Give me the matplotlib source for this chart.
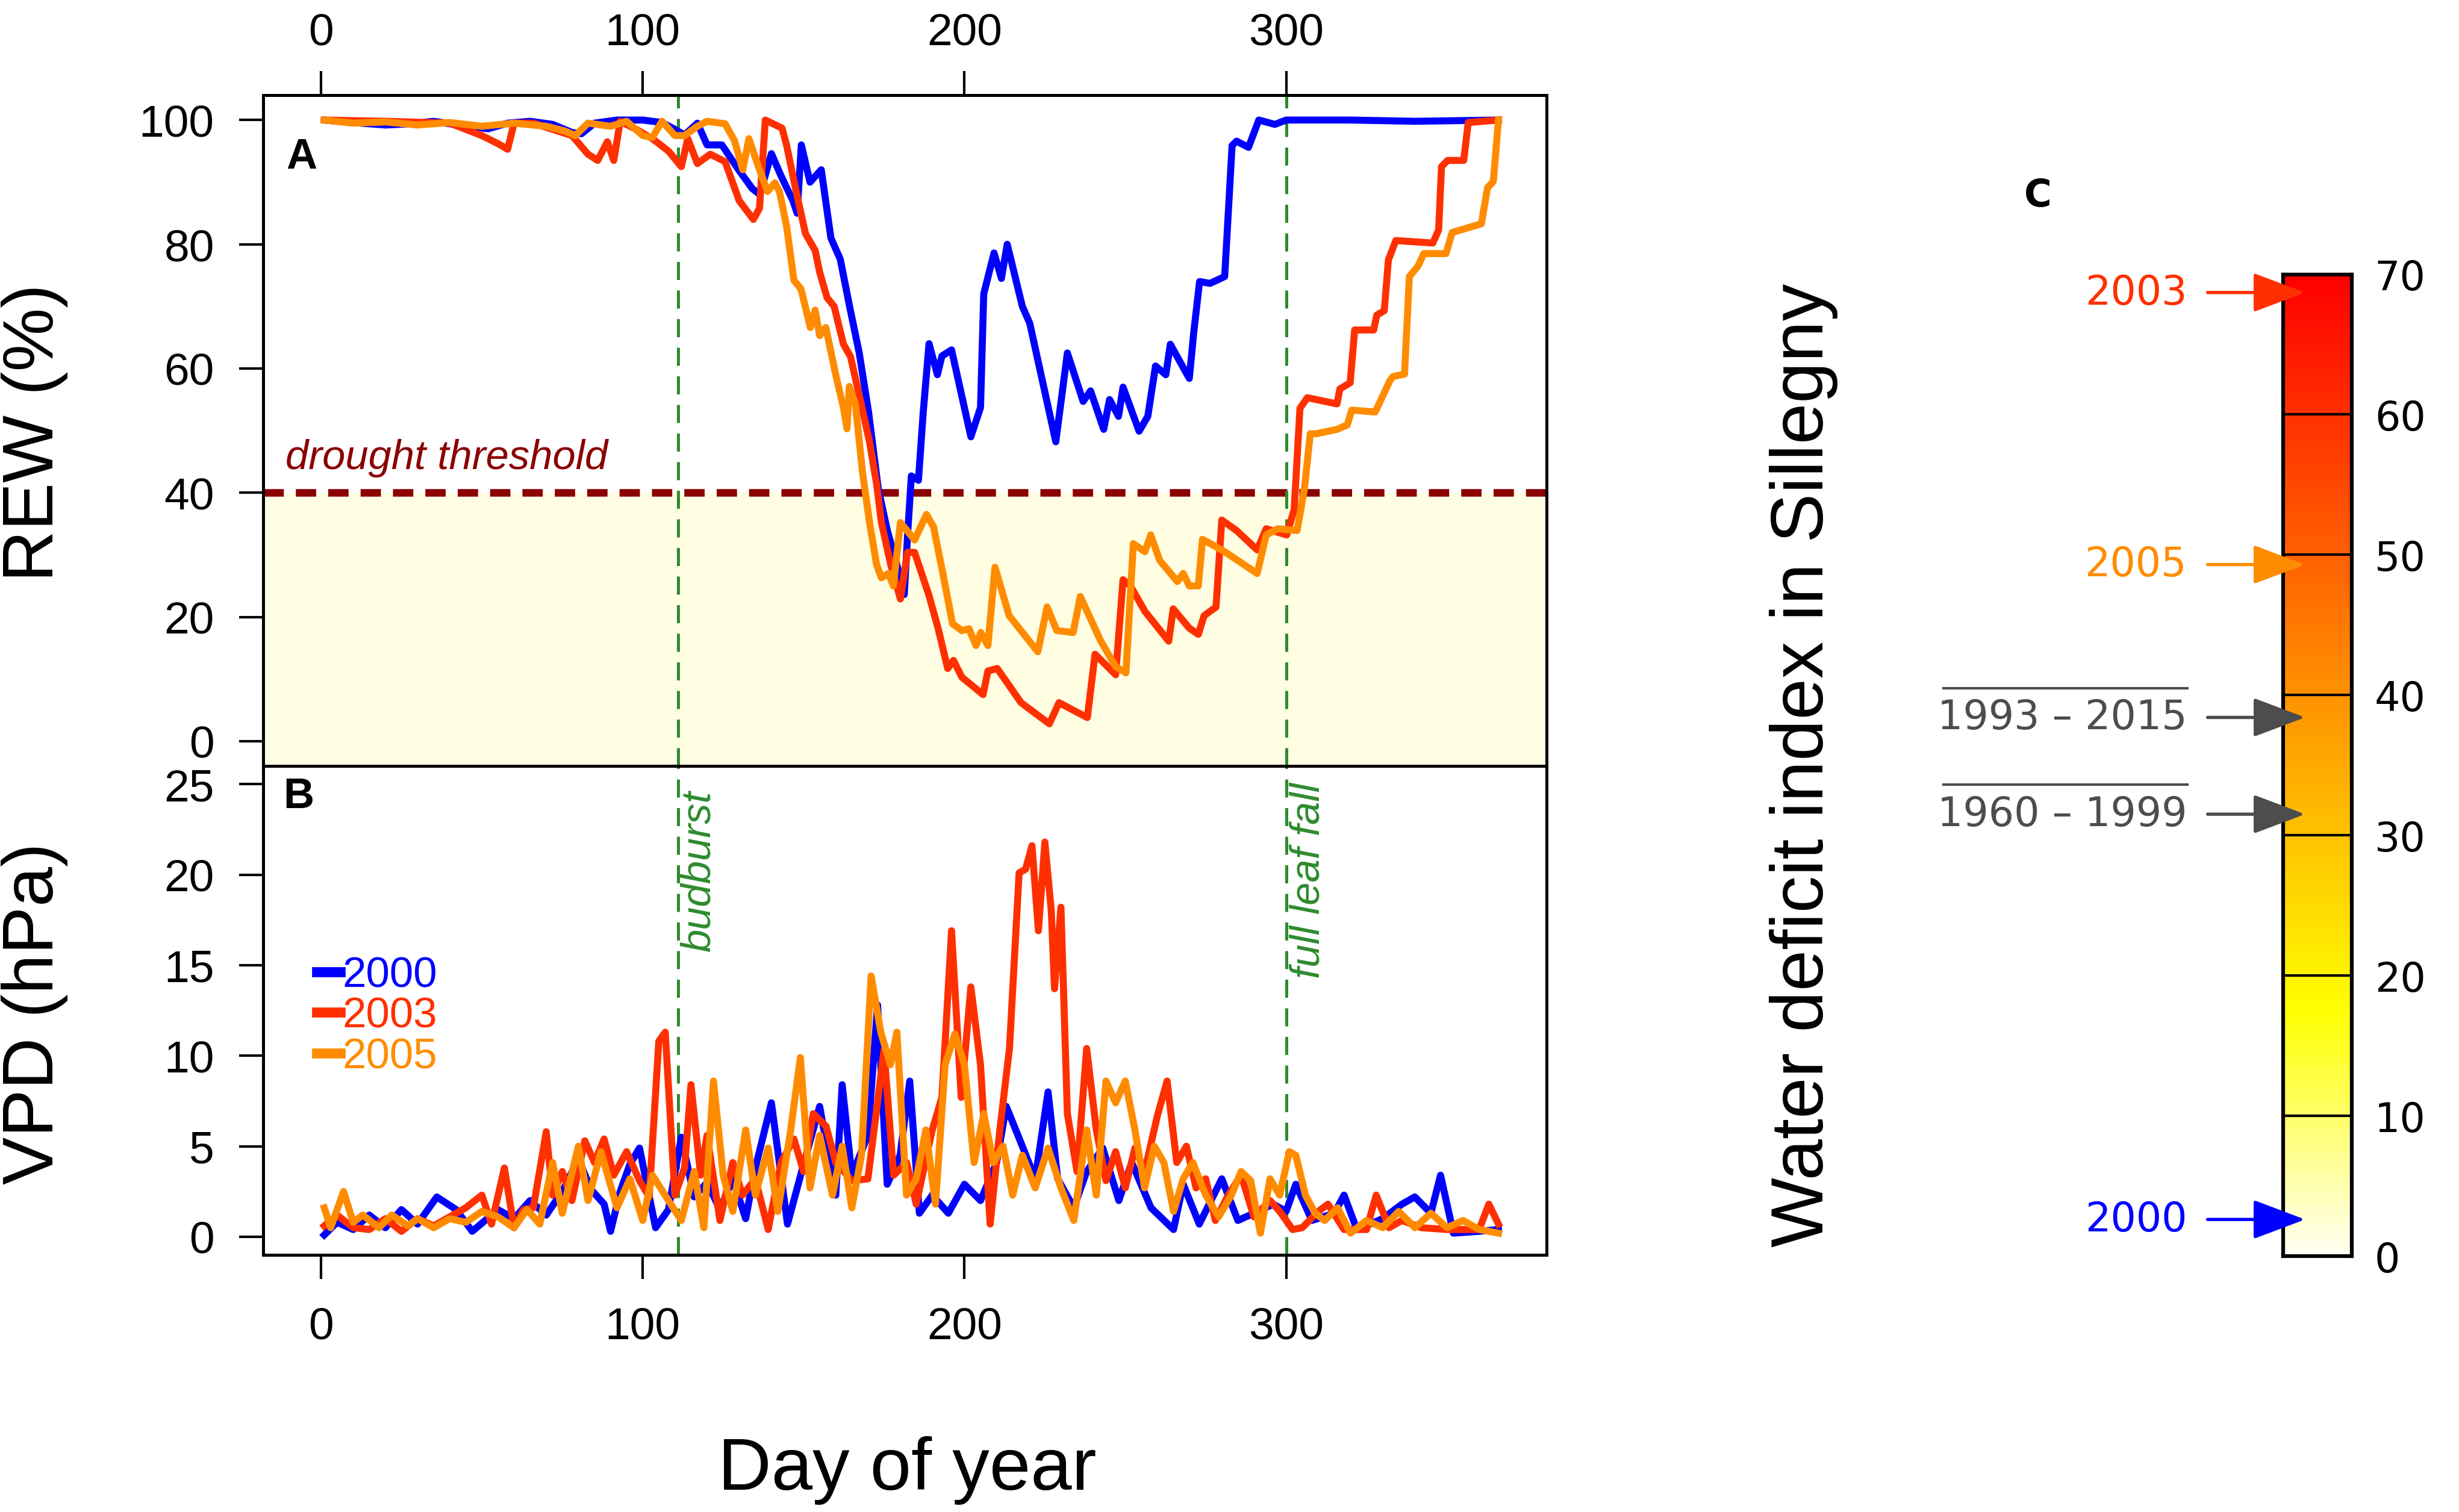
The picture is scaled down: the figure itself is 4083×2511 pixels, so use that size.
import numpy as np
import matplotlib.pyplot as plt
from matplotlib.colors import LinearSegmentedColormap

plt.rcParams['font.family'] = ['Liberation Sans', 'DejaVu Sans']

# ---- data ----
years = ['2000', '2003', '2005']
year_colors = ['#0000FF', '#FF3000', '#FF8C00']

# REW (%) panel A
rew_day_2000 = [1, 10, 20, 28, 35, 45, 52, 58, 65, 72, 78, 81, 85, 92, 100, 106, 110, 113, 117, 120,
                124.6, 129.8, 134, 136.4, 140, 143, 146.7, 148, 149.3, 152, 155.5, 158.5, 161.4, 164.3,
                167.3, 170.2, 173.2, 176, 179, 181.3, 182.4, 183.5, 185.7, 187.2, 189, 191.6, 193, 196,
                202, 205, 206, 209.2, 211.5, 213.3, 218, 220.3, 228.4, 232, 236.9, 239.2, 243.3, 245.1,
                247.9, 249.3, 254.3, 257, 259.4, 262.6, 264, 269.9, 271.3, 273.1, 276.3, 280.9, 283.2,
                284.6, 288.3, 291.5, 296.5, 300, 320, 340, 366]
rew_val_2000 = [100, 99.6, 99.2, 99.4, 99.8, 99, 98.6, 99.5, 99.8, 99.3, 98, 97.8, 99.5, 100, 100, 99.6,
                98.5, 97.6, 99.5, 96, 96, 92, 89, 88, 94.6, 91, 87, 85, 96, 90, 92, 81, 77.6, 70, 62.5, 53,
                40.7, 34, 28.4, 23.6, 33.8, 42.7, 42, 53, 64, 59, 62, 63, 49, 53.7, 72, 78.6, 74.5, 80, 70,
                67.3, 48.2, 62.5, 54.7, 56.4, 50.2, 55, 52.3, 57, 49.9, 52.3, 60.4, 59, 63.9, 58.4, 65.9,
                74, 73.7, 74.8, 95.9, 96.6, 95.6, 100, 99.3, 100, 100, 99.8, 100]

rew_day_2003 = [1, 20, 40, 45, 50, 55, 58, 60, 66, 72, 78, 83, 86, 89, 91, 93, 98, 103, 108, 112, 114,
                117, 121, 125.6, 130, 134.4, 136.3, 138.1, 143.3, 144.7, 147.7, 150.6, 153.6, 155, 157.3,
                159.5, 162.4, 164.6, 167.6, 170.5, 172.7, 174.2, 177.1, 180.1, 182.3, 184.5, 188.9, 191.8,
                194.8, 196.6, 199.2, 205.8, 207.3, 210.2, 217.6, 226.4, 229.4, 238.2, 240.6, 247, 249.3,
                251.6, 256.1, 263.5, 264.9, 269.9, 272.7, 274.5, 278.2, 280, 284.6, 291, 293.8, 300.2,
                302.5, 304.3, 306.6, 315.8, 316.7, 319.9, 321.3, 327.2, 328.2, 330.5, 331.8, 334.1, 345.6,
                347.4, 348.3, 350.2, 355.2, 356.6, 366]
rew_val_2003 = [100, 99.8, 99.5, 98.5, 97.5, 96.2, 95.3, 99.5, 99.5, 98.5, 97.5, 94.5, 93.5, 96.5, 93.5,
                99.8, 98.5, 97, 95, 92.5, 97, 93, 94.5, 93.3, 87, 84, 85.8, 100, 98.7, 96, 88.5, 81.7, 79,
                75.5, 71.4, 70, 63.9, 61.9, 55, 48.2, 41.4, 35.2, 28.4, 22.9, 30.4, 30.4, 23.6, 18.2, 11.7,
                13, 10.3, 7.5, 11.3, 11.7, 6.2, 2.8, 6.2, 3.8, 14, 10.7, 26, 25, 20.9, 16.1, 21.3, 18.2,
                17.2, 20.2, 21.6, 35.6, 33.9, 30.8, 34.2, 33.2, 37.3, 53.6, 55.3, 54.3, 56.7, 57.7, 66.2,
                66.2, 68.6, 69.3, 77.5, 80.6, 80.2, 82.3, 92.5, 93.5, 93.5, 99.6, 100]

rew_day_2005 = [1, 10, 20, 30, 40, 50, 60, 70, 76, 79, 83, 90, 95, 100, 103, 106, 110, 113, 117, 120,
                125.6, 128.5, 131.1, 133, 135.9, 138.8, 141.1, 142.5, 144.7, 147, 149.2, 152.1, 153.6,
                155, 156.9, 160.2, 162.4, 163.5, 164.2, 166.1, 168.3, 170.5, 172.7, 174.2, 176.4, 177.9,
                180.1, 182.3, 184.5, 188.2, 190.4, 193.3, 196.3, 199.2, 201.4, 203.6, 205.1, 207.3, 209.5,
                213.9, 222.8, 225.7, 228.7, 233.8, 236, 242.4, 247, 250.2, 252.5, 256.1, 257.9, 260.7,
                266.2, 268, 269.9, 272.7, 274, 280.9, 291, 293.8, 297.4, 303.4, 305.7, 307.5, 309.4, 315.8,
                319, 320.4, 327.7, 329.5, 332.3, 333.2, 336.8, 338.3, 341, 342.8, 349.7, 351.6, 360.7,
                362.6, 364.4, 366]
rew_val_2005 = [100, 99.5, 99.7, 99.2, 99.6, 99, 99.5, 99, 98.2, 97.5, 99.5, 99, 99.8, 97.5, 97.2, 99.8,
                97.5, 97.5, 99, 99.8, 99.4, 96.7, 92, 97, 92.6, 88.5, 89.9, 88.5, 83, 74.2, 72.8, 66.6,
                69.4, 65.3, 66.6, 58.5, 53.7, 50.3, 57.1, 54.3, 43.4, 35.2, 28.4, 26.3, 27, 25, 35.2, 33.8,
                32.4, 36.5, 34.5, 27, 18.9, 17.8, 18.1, 15.4, 17.5, 15.4, 28, 20.2, 14.4, 21.6, 17.8, 17.5,
                23.3, 16.1, 12, 11, 31.8, 30.5, 33.2, 29.1, 25.7, 27, 25, 25, 32.5, 30.5, 27, 33.2, 34.2,
                33.9, 40.7, 49.5, 49.5, 50.2, 50.9, 53.3, 53, 55, 58.1, 58.7, 59.1, 74.8, 76.5, 78.5, 78.5,
                81.9, 83.3, 89.1, 90.1, 100]

# VPD (hPa) panel B
vpd_day_2000 = [1, 5, 10, 15, 20, 25, 30, 36, 42, 47, 55, 60, 65, 70, 75, 80, 84, 88, 90, 93, 96, 99,
                104, 108, 112, 116, 120, 124, 128, 132, 135, 140, 145, 150, 155, 160, 162, 165, 170, 173,
                176, 180, 183, 186, 190, 195, 200, 205, 210, 213, 218, 222, 226, 229, 234, 238, 243, 248,
                252, 258, 265, 268, 273, 280, 285, 290, 296, 300, 303, 308, 315, 318, 322, 330, 336, 340,
                345, 348, 352, 360, 366]
vpd_val_2000 = [0.1, 0.8, 0.4, 1.2, 0.5, 1.5, 0.7, 2.2, 1.5, 0.3, 1.5, 1.0, 2.0, 1.2, 2.5, 4.3, 2.6, 1.8,
                0.3, 2.5, 4.0, 4.9, 0.5, 1.5, 5.5, 2.2, 3.0, 1.5, 3.2, 1.0, 3.8, 7.4, 0.7, 4.0, 7.2, 2.3,
                8.4, 3.4, 5.6, 12.8, 2.9, 4.5, 8.6, 1.3, 2.3, 1.3, 2.9, 2.0, 4.1, 7.2, 5.0, 3.2, 8.0, 3.2,
                1.6, 3.6, 4.9, 2.0, 4.1, 1.6, 0.4, 2.9, 0.7, 3.2, 0.9, 1.3, 1.8, 1.4, 2.9, 0.9, 1.3, 2.3,
                0.4, 1.0, 1.8, 2.2, 1.3, 3.4, 0.2, 0.3, 0.4]

vpd_day_2003 = [1, 5, 10, 15, 20, 25, 30, 35, 40, 45, 50, 53, 57, 60, 63, 66, 70, 72, 75, 78, 82, 85, 88,
                91, 95, 99, 102, 105, 107, 110, 113, 115, 118, 120, 124, 128, 131, 135, 139, 143, 147, 150,
                153, 157, 160, 165, 170, 175, 178, 182, 185, 190, 193, 196, 199, 202, 205, 208, 211, 214,
                217, 219, 221, 223, 225, 227, 228, 230, 232, 235, 238, 241, 244, 247, 250, 253, 256, 260,
                263, 266, 269, 272, 275, 278, 282, 286, 290, 295, 298, 302, 305, 310, 313, 318, 325, 328,
                332, 336, 342, 350, 355, 360, 363, 366]
vpd_val_2003 = [0.6, 1.2, 0.5, 0.4, 1.0, 0.3, 1.0, 0.6, 1.1, 1.6, 2.3, 0.7, 3.8, 0.5, 1.5, 1.6, 5.8, 2.3,
                3.6, 2.0, 5.3, 4.1, 5.4, 3.4, 4.7, 3.1, 2.2, 10.8, 11.3, 2.3, 3.8, 8.4, 3.4, 5.6, 0.9, 4.1,
                2.3, 3.2, 0.4, 4.1, 5.4, 3.6, 6.8, 6.1, 4.1, 3.1, 3.2, 10.3, 3.4, 4.1, 1.8, 5.9, 7.7, 16.9,
                7.7, 13.8, 9.5, 0.7, 5.9, 10.4, 20.1, 20.3, 21.6, 16.9, 21.8, 18.0, 13.7, 18.2, 6.8, 3.6,
                10.4, 5.9, 3.1, 4.7, 2.7, 4.9, 3.6, 6.7, 8.6, 4.1, 5.0, 2.7, 3.2, 0.9, 2.3, 3.4, 1.1, 2.0,
                1.4, 0.4, 0.5, 1.4, 1.8, 0.4, 0.4, 2.3, 0.5, 0.9, 0.5, 0.4, 0.4, 0.4, 1.8, 0.7]

vpd_day_2005 = [1, 3, 7, 10, 13, 18, 22, 27, 30, 35, 40, 45, 50, 55, 60, 64, 68, 72, 75, 80, 83, 87, 92,
                96, 100, 103, 108, 112, 116, 119, 122, 125, 128, 132, 135, 139, 142, 146, 149, 152, 155,
                159, 162, 165, 168, 171, 174, 177, 179, 182, 185, 188, 191, 194, 197, 200, 203, 206, 209,
                212, 215, 218, 222, 226, 230, 234, 238, 241, 244, 247, 250, 253, 256, 259, 262, 265, 268,
                271, 275, 279, 283, 286, 289, 292, 295, 298, 301, 303, 306, 309, 312, 316, 320, 325, 330,
                335, 340, 345, 350, 355, 360, 366]
vpd_val_2005 = [1.6, 0.5, 2.5, 0.8, 1.2, 0.5, 1.2, 0.6, 1.0, 0.5, 1.0, 0.8, 1.4, 1.1, 0.5, 1.5, 0.7, 4.1,
                1.3, 5.0, 2.0, 4.7, 1.6, 3.2, 0.9, 3.4, 2.0, 0.9, 3.6, 0.5, 8.6, 3.4, 1.4, 5.9, 2.3, 4.9,
                1.4, 5.9, 9.9, 2.7, 5.6, 2.3, 5.0, 1.6, 4.5, 14.4, 11.3, 9.5, 11.3, 2.3, 3.2, 5.9, 1.8, 9.5,
                11.2, 9.5, 4.1, 6.8, 4.1, 5.0, 2.3, 4.5, 2.7, 4.9, 2.7, 0.9, 5.9, 2.3, 8.6, 7.4, 8.6, 5.9,
                2.7, 5.0, 4.1, 1.4, 3.2, 4.1, 2.3, 1.1, 2.3, 3.6, 3.1, 0.2, 3.2, 2.3, 4.7, 4.5, 2.3, 1.3,
                0.9, 1.6, 0.2, 0.9, 0.5, 1.4, 0.5, 1.3, 0.5, 0.9, 0.4, 0.2]

rew_days = [rew_day_2000, rew_day_2003, rew_day_2005]
rew_vals = [rew_val_2000, rew_val_2003, rew_val_2005]
vpd_days = [vpd_day_2000, vpd_day_2003, vpd_day_2005]
vpd_vals = [vpd_val_2000, vpd_val_2003, vpd_val_2005]

drought_threshold = 40
budburst_day = 111
leaf_fall_day = 300

# panel C: water deficit index
wdi_labels = ['2003', '2005', '1993 – 2015', '1960 – 1999', '2000']
wdi_values = [68.7, 49.3, 38.4, 31.5, 2.6]
wdi_colors = ['#FF3000', '#FF8C00', '#4D4D4D', '#4D4D4D', '#0000FF']
wdi_overline = [False, False, True, True, False]

# ---- figure ----
fig = plt.figure(figsize=(13.61, 8.373), dpi=300)
axA = fig.add_axes([0.107, 0.4932, 0.522, 0.4435])
axB = fig.add_axes([0.107, 0.170, 0.522, 0.3232])

xlim = (-18, 381)
green = '#2E8B2E'

for ax in (axA, axB):
    ax.set_xlim(*xlim)
    ax.set_xticks([0, 100, 200, 300])
    ax.tick_params(direction='out', length=9.5, width=1.0, labelsize=18)
    ax.tick_params(axis='y', pad=10)
    ax.tick_params(axis='x', pad=11)
    for s in ax.spines.values():
        s.set_linewidth(1.2)
    ax.axvline(budburst_day, color=green, lw=1.2, ls=(0, (6, 3.5)))
    ax.axvline(leaf_fall_day, color=green, lw=1.2, ls=(0, (6, 3.5)))

# panel A
axA.set_ylim(-4, 104)
axA.axhspan(-4, drought_threshold, color='#FFFDE2', zorder=0, lw=0)
axA.axhline(drought_threshold, color='#8B0000', lw=3.0, ls=(0, (2.7, 1.6)), zorder=1)
for d, v, c in zip(rew_days, rew_vals, year_colors):
    axA.plot(d, v, color=c, lw=2.8, zorder=3, solid_joinstyle='round')
axA.xaxis.tick_top()
axA.tick_params(axis='x', pad=7)
axA.set_yticks([0, 20, 40, 60, 80, 100])
axA.text(-11, 42.5, 'drought threshold', color='#8B0000', fontsize=16.5, style='italic',
         ha='left', va='bottom')
axA.text(-6, 94, 'A', fontsize=17, fontweight='bold', ha='center', va='center')

# panel B
axB.set_ylim(-1, 26)
for d, v, c, yr in zip(vpd_days, vpd_vals, year_colors, years):
    axB.plot(d, v, color=c, lw=2.8, label=yr, zorder=3, solid_joinstyle='round')
axB.set_yticks([0, 5, 10, 15, 20, 25])
axB.text(-7, 24.3, 'B', fontsize=17, fontweight='bold', ha='center', va='center')
axB.text(117.5, 20.2, 'budburst', color=green, fontsize=16.5, style='italic', rotation=90,
         ha='center', va='center')
axB.text(307, 19.7, 'full leaf fall', color=green, fontsize=16.5, style='italic', rotation=90,
         ha='center', va='center')
leg = axB.legend(loc='upper left', bbox_to_anchor=(0.025, 0.655), frameon=False, fontsize=17,
                 handlelength=0.55, handletextpad=0.05, labelspacing=0.02, borderpad=0,
                 labelcolor='linecolor')
for h in leg.legend_handles:
    h.set_linewidth(4)

fig.text(0.014, 0.714, 'REW (%)', rotation=90, fontsize=28.5, ha='center', va='center')
fig.text(0.014, 0.330, 'VPD (hPa)', rotation=90, fontsize=28.5, ha='center', va='center')
fig.text(0.369, 0.028, 'Day of year', fontsize=29.5, ha='center', va='center')

# panel C
axC = fig.add_axes([0.9284, 0.1693, 0.0281, 0.649])
cmap = LinearSegmentedColormap.from_list(
    'heat', [(0, '#FFFFF2'), (0.25, '#FFFF00'), (1, '#FF0000')])
grad = np.linspace(0, 70, 300).reshape(-1, 1)
axC.imshow(grad, cmap=cmap, aspect='auto', origin='lower', extent=[0, 1, 0, 70])
for lev in range(10, 70, 10):
    axC.axhline(lev, color='black', lw=1.0)
axC.set_xlim(0, 1)
axC.set_ylim(0, 70)
axC.set_xticks([])
axC.yaxis.tick_right()
axC.set_yticks(range(0, 71, 10))
axC.tick_params(axis='y', length=0, pad=9, labelsize=16)
for t in axC.get_yticklabels():
    t.set_fontfamily('DejaVu Sans')
for s in axC.spines.values():
    s.set_linewidth(1.5)

for lab, val, c, ov in zip(wdi_labels, wdi_values, wdi_colors, wdi_overline):
    axC.annotate('', xy=(0.32, val), xytext=(-1.09, val), annotation_clip=False,
                 arrowprops=dict(arrowstyle='-|>,head_length=0.45,head_width=0.17',
                                 color=c, lw=1.3, mutation_scale=40, shrinkA=0, shrinkB=0))
    axC.text(-1.39, val, lab, color=c, fontsize=16, ha='right', va='center',
             family='DejaVu Sans')
    if ov:
        axC.plot([-4.91, -1.386], [val + 2.1, val + 2.1], color=c, lw=1.0, clip_on=False)

axC.text(-3.55, 75.6, 'C', fontsize=15, fontweight='bold', ha='center', va='center',
         family='DejaVu Sans')
fig.text(0.7335, 0.494, 'Water deficit index in Sillegny', rotation=90, fontsize=29.5,
         ha='center', va='center')

fig.savefig('out.png', dpi=300)
